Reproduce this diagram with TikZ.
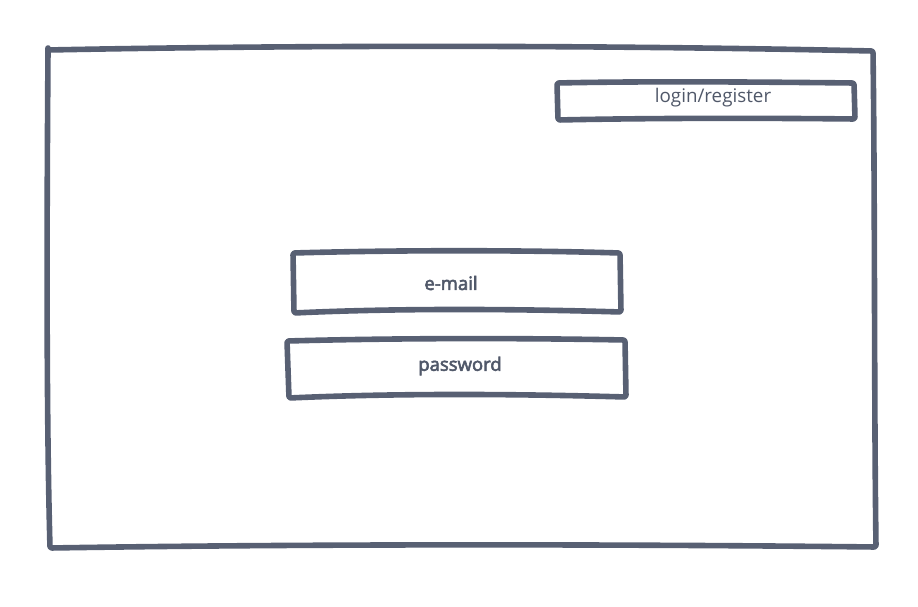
\documentclass[tikz,border=0pt]{standalone}
\usepackage{fontspec}
\setmainfont{Open Sans}
\newfontfamily\semib{Open Sans}[FakeBold=3]
\definecolor{ink}{RGB}{88,96,115}
\definecolor{txt}{RGB}{80,88,105}
\tikzset{
  sketch/.style={draw=ink, line width=5.6pt, line join=round, line cap=round, rounded corners=2pt},
  lbl/.style={text=txt, font=\fontsize{18.8}{22}\selectfont, inner sep=0pt},
  lblb/.style={text=txt, font=\semib\fontsize{18.5}{22}\selectfont, inner sep=0pt}
}
\begin{document}
\begin{tikzpicture}[x=1pt,y=-1pt]
\useasboundingbox (0,0) rectangle (918,607);
% outer frame
\draw[sketch] (48,50) .. controls (300,45) and (600,45) .. (873,51)
  .. controls (875,200) and (874,400) .. (876,547)
  .. controls (600,544) and (300,544) .. (50,548)
  .. controls (46,400) and (47,200) .. cycle;
% login/register
\draw[sketch] (557,83) .. controls (650,81) and (760,82) .. (854,83)
  -- (855,119) .. controls (760,118) and (650,118) .. (558,120) -- cycle;
\node[lbl] (login) at (713,98) {login/register};
% e-mail
\draw[sketch] (293,253) .. controls (400,250) and (520,250) .. (620,253)
  -- (621,312) .. controls (520,309) and (400,308) .. (294,313) -- cycle;
\node[lblb] (email) at (451,283) {e-mail};
% password
\draw[sketch] (287,341) .. controls (400,338) and (520,338) .. (625,340)
  -- (626,397) .. controls (520,394) and (400,393) .. (289,398) -- cycle;
\node[lblb] (pass) at (460,366) {password};
\end{tikzpicture}
\end{document}
